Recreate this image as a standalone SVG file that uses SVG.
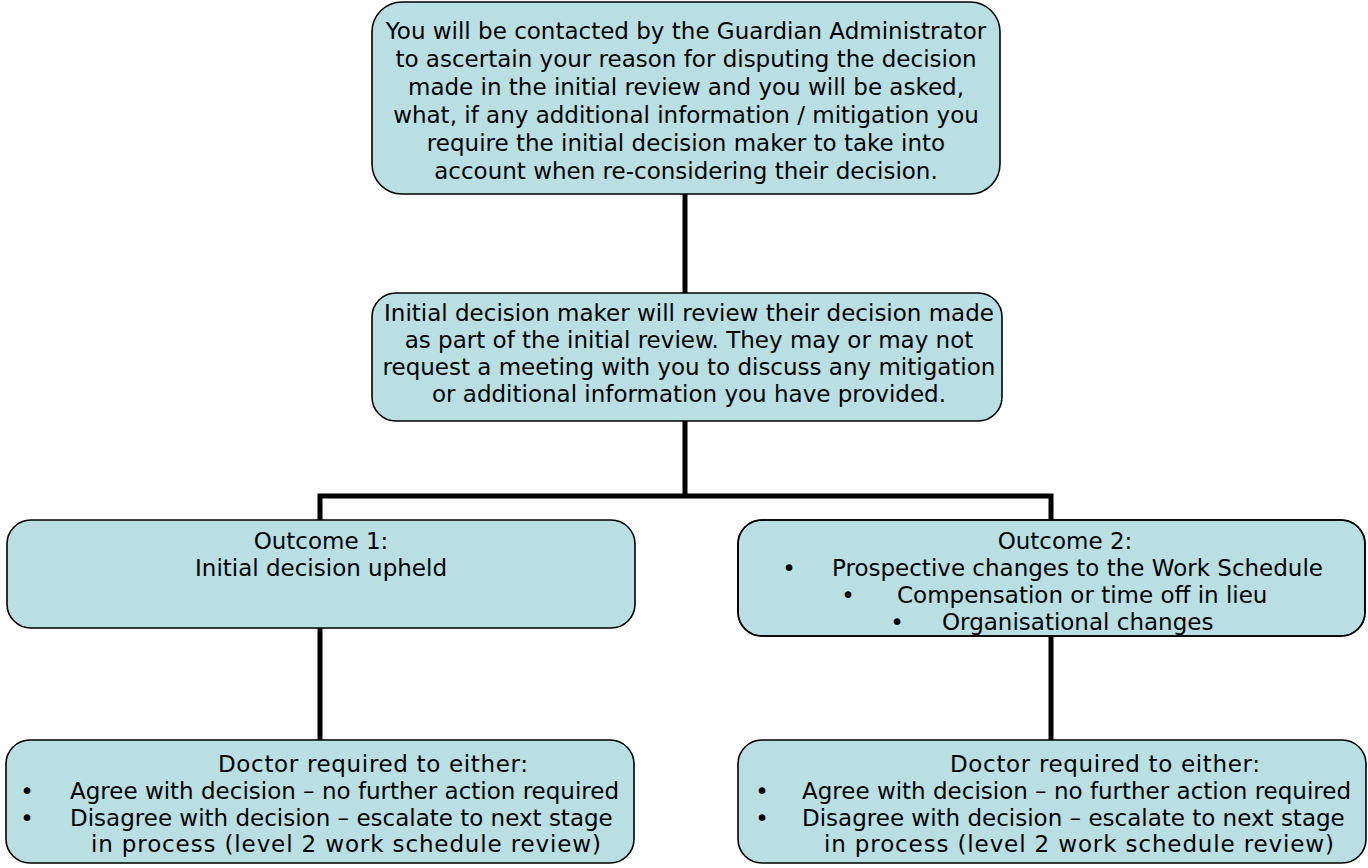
<svg xmlns="http://www.w3.org/2000/svg" width="1368" height="868" viewBox="0 0 1368 868">
<style>
.box{fill:#B9DFE3;stroke:#000;stroke-width:1.6}
.t{font-family:"DejaVu Sans","Liberation Sans",sans-serif;font-size:23px;fill:#000}
.c{text-anchor:middle}
.conn{fill:none;stroke:#000;stroke-width:5}
</style>
<defs>
<clipPath id="clip4"><rect x="738" y="520" width="627" height="116" rx="24"/></clipPath>
</defs>
<rect width="1368" height="868" fill="#fff"/>
<g id="connectors">
<line class="conn" x1="685" y1="194" x2="685" y2="293"/>
<path class="conn" d="M685 421 V496 M320 520 V496 H1051 V520"/>
<line class="conn" x1="320" y1="628" x2="320" y2="740"/>
<line class="conn" x1="1051" y1="636" x2="1051" y2="740"/>
</g>
<g id="n1">
<rect class="box" x="372" y="2" width="628" height="192" rx="30"/>
<text class="t c" x="686" y="39">You will be contacted by the Guardian Administrator</text>
<text class="t c" x="686" y="67">to ascertain your reason for disputing the decision</text>
<text class="t c" x="686" y="95">made in the initial review and you will be asked,</text>
<text class="t c" x="686" y="123">what, if any additional information / mitigation you</text>
<text class="t c" x="686" y="151">require the initial decision maker to take into</text>
<text class="t c" x="686" y="179">account when re-considering their decision.</text>
</g>
<g id="n2">
<rect class="box" x="372" y="293" width="630" height="128" rx="24"/>
<text class="t c" x="689" y="321">Initial decision maker will review their decision made</text>
<text class="t c" x="689" y="348">as part of the initial review. They may or may not</text>
<text class="t c" x="689" y="375">request a meeting with you to discuss any mitigation</text>
<text class="t c" x="689" y="402">or additional information you have provided.</text>
</g>
<g id="n3">
<rect class="box" x="7" y="520" width="628" height="108" rx="24"/>
<text class="t c" x="321" y="549">Outcome 1:</text>
<text class="t c" x="321" y="576">Initial decision upheld</text>
</g>
<g id="n4">
<rect class="box" x="738" y="520" width="627" height="116" rx="24"/>
<g clip-path="url(#clip4)">
<text class="t c" x="1065" y="549">Outcome 2:</text>
<text class="t c" x="789" y="576">•</text>
<text class="t" x="832" y="576">Prospective changes to the Work Schedule</text>
<text class="t c" x="848" y="603">•</text>
<text class="t" x="897" y="603">Compensation or time off in lieu</text>
<text class="t c" x="897" y="630">•</text>
<text class="t" x="942" y="630">Organisational changes</text>
</g>
<rect x="738" y="520" width="627" height="116" rx="24" fill="none" stroke="#000" stroke-width="1.6"/>
</g>
<g id="n5">
<rect class="box" x="6" y="740" width="628" height="123" rx="24"/>
<text class="t" x="218" y="772" textLength="310">Doctor required to either:</text>
<text class="t c" x="27" y="799">•</text>
<text class="t" x="70" y="799">Agree with decision – no further action required</text>
<text class="t c" x="27" y="826">•</text>
<text class="t" x="70" y="826">Disagree with decision – escalate to next stage</text>
<text class="t" x="91" y="852" textLength="510">in process (level 2 work schedule review)</text>
</g>
<g id="n6">
<rect class="box" x="738" y="740" width="628" height="123" rx="24"/>
<text class="t" x="950" y="772" textLength="310">Doctor required to either:</text>
<text class="t c" x="762" y="799">•</text>
<text class="t" x="802" y="799">Agree with decision – no further action required</text>
<text class="t c" x="762" y="826">•</text>
<text class="t" x="802" y="826">Disagree with decision – escalate to next stage</text>
<text class="t" x="824" y="852" textLength="510">in process (level 2 work schedule review)</text>
</g>
</svg>
